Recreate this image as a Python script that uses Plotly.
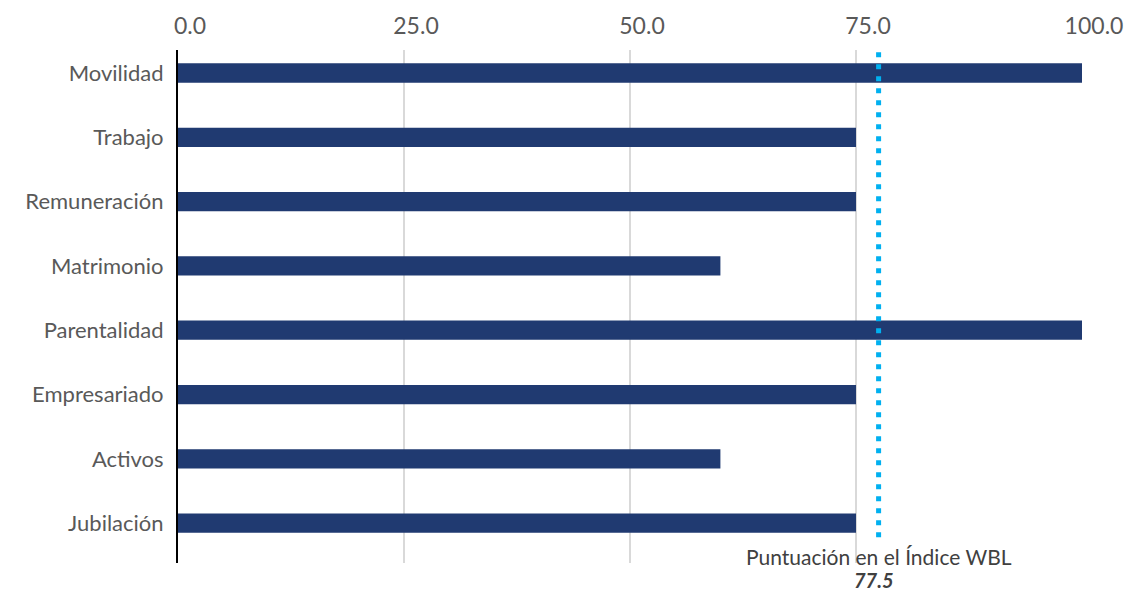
import plotly.graph_objects as go

categories = ["Movilidad", "Trabajo", "Remuneración", "Matrimonio",
              "Parentalidad", "Empresariado", "Activos", "Jubilación"]
scores = [100, 75, 75, 60, 100, 75, 60, 75]
wbl_index = 77.5
tick_values = [0, 25, 50, 75, 100]
tick_labels = ["0.0", "25.0", "50.0", "75.0", "100.0"]

FONT = "Lato, 'Open Sans', sans-serif"
GREY = "#595959"

fig = go.Figure()
fig.add_trace(go.Bar(
    x=scores, y=categories, orientation="h",
    marker=dict(color="#203a71", line=dict(width=0)),
    width=0.3, hoverinfo="x+y",
))

# WBL index reference line
fig.add_shape(type="line", xref="x", yref="paper",
              x0=wbl_index, x1=wbl_index, y0=0.05, y1=1.0,
              line=dict(color="#00b0f0", width=5, dash="5px,7px"))

# Label of the reference line (caption and value)
fig.add_annotation(x=wbl_index, xref="x", y=0.012, yref="paper",
                   text="Puntuación en el Índice WBL",
                   showarrow=False, xanchor="center", yanchor="middle",
                   borderpad=0,
                   font=dict(family=FONT, size=21, color="#404040"))
fig.add_annotation(x=wbl_index, xref="x", y=-0.033, yref="paper",
                   text="<b><i>%.1f</i></b>" % wbl_index,
                   showarrow=False, xanchor="center", yanchor="middle",
                   xshift=-5, borderpad=0,
                   font=dict(family=FONT, size=20, color="#404040"))

fig.update_xaxes(range=[0, 100], side="top", tickvals=tick_values,
                 ticktext=tick_labels, showgrid=True, gridcolor="#d9d9d9",
                 gridwidth=2, zeroline=False, showline=False,
                 tickfont=dict(family=FONT, size=23, color=GREY), ticks="",
                 ticklabelstandoff=10, ticklabelshift=12, automargin=False)
fig.update_yaxes(range=[7.62, -0.358], showgrid=False, zeroline=False,
                 showline=True, linecolor="black", linewidth=2, ticks="",
                 tickfont=dict(family=FONT, size=22, color=GREY),
                 ticklabelstandoff=8, automargin=False)

fig.update_layout(
    width=1130, height=594, showlegend=False,
    plot_bgcolor="white", paper_bgcolor="white",
    margin=dict(l=178, r=48, t=50, b=31),
    font=dict(family=FONT),
)

fig.write_html("out.html")
